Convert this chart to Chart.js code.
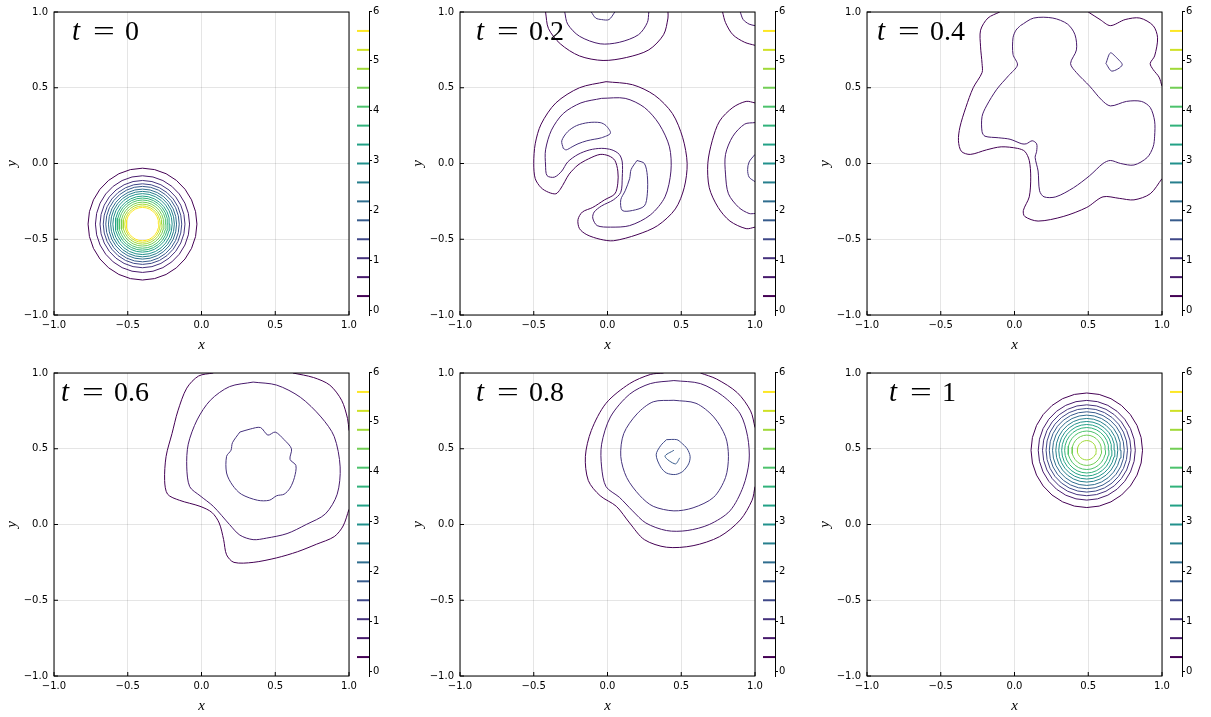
<!DOCTYPE html>
<html>
<head>
<meta charset="utf-8">
<script src="https://cdn.jsdelivr.net/npm/chart.js@4.4.1/dist/chart.umd.min.js"></script>
<style>
  body { margin: 0; background: #fff; width: 1211px; height: 717px; position: relative; overflow: hidden; }
  canvas { position: absolute; }
</style>
</head>
<body>
<script>
// contour levels shown on every colorbar
const contourLevels = [0.28, 0.66, 1.04, 1.42, 1.80, 2.18, 2.56, 2.94, 3.32, 3.70, 4.08, 4.46, 4.84, 5.22, 5.60];
const colorbarTicks = [0, 1, 2, 3, 4, 5, 6];
const colorbarRange = [-0.1, 6];
const axisTicks = [-1, -0.5, 0, 0.5, 1];
const times = ['0', '0.2', '0.4', '0.6', '0.8', '1'];

// t = 0 : concentric rings, radius per level
const t0_center = [-0.40, -0.40];
const t0_radii = [0.369, 0.319, 0.288, 0.266, 0.249, 0.231, 0.216, 0.201, 0.185, 0.172, 0.159, 0.145, 0.132, 0.120, 0.110];

// t = 1 : concentric rings
const t1_center = [0.49, 0.49];
const t1_radii = [0.378, 0.329, 0.300, 0.276, 0.254, 0.232, 0.210, 0.190, 0.170, 0.150, 0.127, 0.100, 0.064];

// t = 0.2
const t02_main0 = [[-0.01,0.54],[-0.19,0.50],[-0.35,0.40],[-0.45,0.26],[-0.49,0.13],[-0.50,0.00],[-0.49,-0.10],[-0.45,-0.16],[-0.40,-0.19],[-0.35,-0.20],[-0.32,-0.17],[-0.29,-0.12],[-0.26,-0.07],[-0.20,-0.01],[-0.13,0.03],[-0.05,0.06],[0.01,0.05],[0.05,0.02],[0.07,-0.05],[0.07,-0.13],[0.05,-0.20],[-0.02,-0.24],[-0.10,-0.29],[-0.17,-0.32],[-0.20,-0.37],[-0.19,-0.43],[-0.14,-0.47],[-0.05,-0.50],[0.04,-0.51],[0.20,-0.47],[0.34,-0.41],[0.46,-0.30],[0.52,-0.16],[0.54,0.00],[0.51,0.17],[0.44,0.33],[0.32,0.45],[0.17,0.52]];
const t02_main1 = [[-0.04,0.43],[-0.18,0.40],[-0.30,0.33],[-0.38,0.22],[-0.42,0.09],[-0.42,-0.01],[-0.41,-0.08],[-0.36,-0.09],[-0.31,-0.05],[-0.27,0.01],[-0.20,0.06],[-0.12,0.09],[-0.04,0.10],[0.03,0.09],[0.08,0.06],[0.10,0.01],[0.10,-0.09],[0.09,-0.19],[0.04,-0.24],[-0.04,-0.28],[-0.09,-0.32],[-0.10,-0.36],[-0.07,-0.41],[0.02,-0.42],[0.15,-0.41],[0.29,-0.34],[0.39,-0.22],[0.43,-0.05],[0.42,0.11],[0.35,0.26],[0.25,0.37],[0.12,0.43]];
const t02_crescentA = [[-0.30,0.10],[-0.31,0.15],[-0.27,0.21],[-0.21,0.25],[-0.13,0.27],[-0.05,0.27],[-0.01,0.25],[0.02,0.20],[-0.04,0.17],[-0.09,0.16],[-0.14,0.15],[-0.20,0.13],[-0.24,0.11],[-0.28,0.09]];
const t02_crescentB = [[0.20,0.02],[0.25,0.00],[0.27,-0.08],[0.27,-0.20],[0.25,-0.28],[0.17,-0.31],[0.10,-0.31],[0.09,-0.24],[0.12,-0.18],[0.15,-0.10],[0.16,-0.04]];
const t02_top0 = [[-0.42,1.0],[-0.40,0.89],[-0.32,0.79],[-0.19,0.71],[-0.03,0.68],[0.13,0.70],[0.28,0.75],[0.38,0.85],[0.41,0.96],[0.41,1.0]];
const t02_top1 = [[-0.29,1.0],[-0.27,0.92],[-0.19,0.84],[-0.05,0.79],[0.08,0.80],[0.21,0.85],[0.27,0.93],[0.28,1.0]];
const t02_top2 = [[-0.11,1.0],[-0.08,0.96],[-0.04,0.95],[0.01,0.95],[0.05,1.0]];
const t02_corner0 = [[0.78,1.0],[0.80,0.93],[0.85,0.85],[0.93,0.80],[1.0,0.78]];
const t02_corner1 = [[0.90,1.0],[0.92,0.95],[0.96,0.92],[1.0,0.91]];
const t02_right0 = [[1.0,0.40],[0.94,0.41],[0.85,0.37],[0.76,0.28],[0.71,0.15],[0.68,0.00],[0.69,-0.16],[0.75,-0.29],[0.83,-0.38],[0.94,-0.43],[1.0,-0.42]];
const t02_right1 = [[1.0,0.27],[0.93,0.26],[0.85,0.18],[0.80,0.06],[0.80,-0.07],[0.82,-0.20],[0.89,-0.29],[0.96,-0.33],[1.0,-0.33]];
const t02_right2 = [[1.0,0.06],[0.96,0.01],[0.95,-0.04],[0.96,-0.09],[1.0,-0.12]];

// t = 0.4
const t04_outerA = [[-0.10,1.0],[-0.18,0.96],[-0.23,0.88],[-0.23,0.77],[-0.22,0.66],[-0.22,0.60],[-0.28,0.50],[-0.33,0.37],[-0.37,0.24],[-0.38,0.15],[-0.36,0.08],[-0.30,0.06],[-0.19,0.09],[-0.09,0.11],[0.02,0.10],[0.07,0.08],[0.10,0.02],[0.11,-0.09],[0.10,-0.22],[0.06,-0.31],[0.07,-0.35],[0.16,-0.38],[0.33,-0.35],[0.49,-0.29],[0.60,-0.22],[0.71,-0.23],[0.81,-0.24],[0.92,-0.20],[1.0,-0.10]];
const t04_outerB = [[1.0,0.51],[0.98,0.57],[0.94,0.62],[0.92,0.66],[0.95,0.71],[0.97,0.83],[0.94,0.91],[0.85,0.96],[0.75,0.95],[0.65,0.91],[0.58,0.95],[0.50,1.0]];
const t04_inner = [[0.04,0.91],[0.13,0.96],[0.26,0.96],[0.36,0.92],[0.41,0.85],[0.42,0.75],[0.38,0.66],[0.42,0.60],[0.51,0.51],[0.59,0.42],[0.65,0.38],[0.76,0.41],[0.86,0.41],[0.92,0.37],[0.95,0.28],[0.95,0.18],[0.94,0.11],[0.90,0.04],[0.81,-0.01],[0.72,0.00],[0.65,0.02],[0.60,0.00],[0.51,-0.08],[0.40,-0.16],[0.28,-0.22],[0.20,-0.22],[0.17,-0.18],[0.16,-0.05],[0.14,0.04],[0.15,0.08],[0.15,0.13],[0.12,0.15],[0.08,0.13],[0.05,0.13],[-0.03,0.16],[-0.11,0.17],[-0.20,0.18],[-0.22,0.21],[-0.22,0.31],[-0.19,0.38],[-0.12,0.49],[-0.04,0.58],[0.02,0.65],[-0.01,0.72],[-0.01,0.83],[0.01,0.88]];
const t04_island = [[0.62,0.66],[0.65,0.73],[0.69,0.70],[0.73,0.65],[0.66,0.61]];

// t = 0.6
const t06_outerA = [[0.08,1.0],[-0.02,0.98],[-0.10,0.90],[-0.16,0.75],[-0.20,0.60],[-0.24,0.45],[-0.25,0.29],[-0.23,0.20],[-0.15,0.16],[-0.01,0.12],[0.07,0.08],[0.12,0.01],[0.15,-0.10],[0.17,-0.20],[0.22,-0.25],[0.35,-0.25],[0.51,-0.22],[0.65,-0.18],[0.78,-0.13],[0.90,-0.08],[0.96,-0.01],[1.0,0.10]];
const t06_outerB = [[1.0,0.62],[0.99,0.70],[0.95,0.82],[0.87,0.92],[0.76,0.97],[0.62,1.0]];
const t06_middle = [[0.35,0.94],[0.51,0.92],[0.67,0.84],[0.81,0.71],[0.90,0.58],[0.94,0.38],[0.92,0.20],[0.84,0.07],[0.71,0.00],[0.58,-0.06],[0.44,-0.09],[0.35,-0.10],[0.26,-0.07],[0.19,0.00],[0.08,0.12],[-0.01,0.19],[-0.08,0.25],[-0.10,0.38],[-0.09,0.53],[-0.03,0.69],[0.06,0.82],[0.19,0.91]];
const t06_inner = [[0.26,0.61],[0.33,0.63],[0.40,0.64],[0.45,0.59],[0.50,0.61],[0.56,0.56],[0.61,0.50],[0.60,0.43],[0.64,0.39],[0.63,0.31],[0.60,0.24],[0.56,0.20],[0.51,0.19],[0.46,0.16],[0.38,0.16],[0.27,0.20],[0.21,0.26],[0.17,0.34],[0.17,0.45],[0.20,0.49],[0.21,0.54]];

// t = 0.8
const t08_outerA = [[0.38,1.0],[0.29,0.99],[0.15,0.93],[-0.01,0.80],[-0.11,0.62],[-0.15,0.45],[-0.13,0.29],[-0.05,0.19],[0.06,0.12],[0.15,0.01],[0.25,-0.10],[0.40,-0.15],[0.58,-0.14],[0.76,-0.08],[0.90,0.03],[0.98,0.16],[1.0,0.25]];
const t08_outerB = [[1.0,0.64],[0.97,0.75],[0.88,0.87],[0.74,0.96],[0.63,1.0]];
const t08_ring1 = [[0.45,0.95],[0.63,0.93],[0.78,0.85],[0.90,0.73],[0.95,0.58],[0.96,0.42],[0.92,0.25],[0.83,0.09],[0.69,0.00],[0.54,-0.04],[0.40,-0.04],[0.26,0.01],[0.17,0.09],[0.08,0.18],[-0.01,0.25],[-0.04,0.38],[-0.04,0.53],[0.02,0.71],[0.15,0.86],[0.29,0.93]];
const t08_ring2 = [[0.45,0.82],[0.60,0.80],[0.72,0.71],[0.80,0.58],[0.82,0.45],[0.80,0.31],[0.72,0.18],[0.58,0.11],[0.45,0.09],[0.31,0.12],[0.22,0.19],[0.13,0.31],[0.09,0.45],[0.11,0.60],[0.20,0.73],[0.31,0.81]];
const t08_ring3 = [[0.40,0.56],[0.47,0.56],[0.50,0.54],[0.54,0.50],[0.56,0.45],[0.55,0.40],[0.51,0.35],[0.46,0.33],[0.40,0.34],[0.36,0.38],[0.33,0.46],[0.36,0.52]];
const t08_ring4 = [[0.45,0.49],[0.39,0.45],[0.46,0.40],[0.49,0.44]];

// layout of the 2 x 3 grid (pixels)
const colPlotLeft = [54, 460, 867];
const rowTop = [0, 361];
const titleOffset = [18, 16, 10, 7, 16, 22];
const plotW = 295, plotH = 304, padTop = 11, yAxisW = 54, xAxisH = 39, padRight = 12;

const viridis = ['#440154', '#482475', '#414487', '#355f8d', '#2a788e', '#21918c', '#22a884', '#44bf70', '#7ad151', '#bddf26', '#fde725'];

function hexToRgb(h) {
    return [parseInt(h.slice(1, 3), 16), parseInt(h.slice(3, 5), 16), parseInt(h.slice(5, 7), 16)];
}

function levelColor(k) {
    const t = k / (contourLevels.length - 1) * (viridis.length - 1);
    const i = Math.min(Math.floor(t), viridis.length - 2);
    const f = t - i;
    const a = hexToRgb(viridis[i]), b = hexToRgb(viridis[i + 1]);
    const c = a.map((v, j) => Math.round(v + (b[j] - v) * f));
    return `rgb(${c[0]},${c[1]},${c[2]})`;
}

function ring(center, r) {
    const pts = [];
    const n = 28;
    for (let i = 0; i <= n; i++) {
        const a = i / n * 2 * Math.PI;
        pts.push([center[0] + r * Math.cos(a), center[1] + r * Math.sin(a)]);
    }
    return pts;
}

function rings(center, radii) {
    return radii.map((r, k) => ({ level: k, pts: ring(center, r), closed: false, smooth: 0 }));
}

const panels = [
    rings(t0_center, t0_radii),
    [
        { level: 0, pts: t02_main0, closed: true }, { level: 1, pts: t02_main1, closed: true },
        { level: 2, pts: t02_crescentA, closed: true }, { level: 2, pts: t02_crescentB, closed: true },
        { level: 0, pts: t02_top0 }, { level: 1, pts: t02_top1 }, { level: 2, pts: t02_top2 },
        { level: 0, pts: t02_corner0 }, { level: 1, pts: t02_corner1 },
        { level: 0, pts: t02_right0 }, { level: 1, pts: t02_right1 }, { level: 2, pts: t02_right2 }
    ],
    [
        { level: 0, pts: t04_outerA }, { level: 0, pts: t04_outerB },
        { level: 1, pts: t04_inner, closed: true }, { level: 2, pts: t04_island, closed: true }
    ],
    [
        { level: 0, pts: t06_outerA }, { level: 0, pts: t06_outerB },
        { level: 1, pts: t06_middle, closed: true }, { level: 2, pts: t06_inner, closed: true }
    ],
    [
        { level: 0, pts: t08_outerA }, { level: 0, pts: t08_outerB },
        { level: 1, pts: t08_ring1, closed: true }, { level: 2, pts: t08_ring2, closed: true },
        { level: 3, pts: t08_ring3, closed: true }, { level: 4, pts: t08_ring4 }
    ],
    rings(t1_center, t1_radii)
];

function fmtTick(v) {
    return (v < 0 ? '\u2212' : '') + Math.abs(v).toFixed(1);
}

// frame, inward tick marks and the "t = ..." label
const framePlugin = {
    id: 'frame',
    afterDraw(chart, args, opts) {
        const { ctx, chartArea: a, scales } = chart;
        ctx.save();
        ctx.strokeStyle = '#000';
        ctx.lineWidth = 1;
        ctx.strokeRect(a.left, a.top, a.right - a.left, a.bottom - a.top);
        ctx.beginPath();
        axisTicks.forEach(v => {
            const px = scales.x.getPixelForValue(v);
            ctx.moveTo(px, a.bottom); ctx.lineTo(px, a.bottom - 4);
            const py = scales.y.getPixelForValue(v);
            ctx.moveTo(a.left, py); ctx.lineTo(a.left + 4, py);
        });
        ctx.stroke();

        const x0 = a.left + opts.offset, base = a.top + 28;
        ctx.fillStyle = '#000';
        ctx.textBaseline = 'alphabetic';
        ctx.font = 'italic 29px "Liberation Serif"';
        ctx.fillText('t', x0, base);
        ctx.save();
        ctx.translate(x0 + 21, base);
        ctx.scale(1.38, 1);
        ctx.font = '28px "Liberation Serif"';
        ctx.fillText('=', 0, 0);
        ctx.restore();
        ctx.font = '28px "Liberation Serif"';
        ctx.fillText(opts.label, x0 + 53, base);
        ctx.restore();
    }
};

const tickFont = { family: 'DejaVu Sans', size: 10 };
const titleFont = { family: 'Liberation Serif', style: 'italic', size: 15 };

panels.forEach((contours, p) => {
    const col = p % 3, row = Math.floor(p / 3);
    const plotLeft = colPlotLeft[col];

    const main = document.createElement('canvas');
    main.width = yAxisW + plotW + padRight;
    main.height = padTop + plotH + xAxisH;
    main.style.left = (plotLeft - yAxisW) + 'px';
    main.style.top = rowTop[row] + 'px';
    document.body.appendChild(main);

    const datasets = contours.map(c => {
        const pts = c.closed ? c.pts.concat([c.pts[0]]) : c.pts;
        return {
            data: pts.map(([x, y]) => ({ x, y })),
            showLine: true,
            pointRadius: 0,
            borderWidth: 1,
            borderColor: levelColor(c.level),
            tension: c.smooth === 0 ? 0 : 0.3,
            fill: false
        };
    });

    new Chart(main, {
        type: 'scatter',
        data: { datasets },
        options: {
            responsive: false,
            animation: false,
            devicePixelRatio: 1,
            layout: { padding: { top: padTop, right: padRight, left: 0, bottom: 0 } },
            plugins: {
                legend: { display: false },
                tooltip: { enabled: false },
                frame: { offset: titleOffset[p], label: times[p] }
            },
            scales: {
                x: {
                    type: 'linear', min: -1, max: 1,
                    afterBuildTicks: s => { s.ticks = axisTicks.map(v => ({ value: v })); },
                    afterFit: s => { s.height = xAxisH; },
                    grid: { color: 'rgba(0,0,0,0.1)', drawTicks: false },
                    border: { display: false },
                    ticks: { padding: 4, font: tickFont, color: '#000', maxRotation: 0, callback: fmtTick },
                    title: { display: true, text: 'x', font: titleFont, color: '#000', padding: { top: 3, bottom: 0 } }
                },
                y: {
                    type: 'linear', min: -1, max: 1,
                    afterBuildTicks: s => { s.ticks = axisTicks.map(v => ({ value: v })); },
                    afterFit: s => { s.width = yAxisW; },
                    grid: { color: 'rgba(0,0,0,0.1)', drawTicks: false },
                    border: { display: false },
                    ticks: { padding: 6, font: tickFont, color: '#000', callback: fmtTick },
                    title: { display: true, text: 'y', font: titleFont, color: '#000', padding: { top: 3, bottom: 0 } }
                }
            }
        },
        plugins: [framePlugin]
    });

    // colorbar with one line per contour level
    const cb = document.createElement('canvas');
    cb.width = 12 + 28;
    cb.height = padTop + plotH + xAxisH;
    cb.style.left = (plotLeft + plotW + 8) + 'px';
    cb.style.top = rowTop[row] + 'px';
    document.body.appendChild(cb);

    new Chart(cb, {
        type: 'scatter',
        data: {
            datasets: contourLevels.map((L, k) => ({
                data: [{ x: 0, y: L }, { x: 1, y: L }],
                showLine: true,
                pointRadius: 0,
                borderWidth: 2,
                borderColor: levelColor(k)
            }))
        },
        options: {
            responsive: false,
            animation: false,
            devicePixelRatio: 1,
            layout: { padding: { top: padTop, bottom: xAxisH, left: 0, right: 0 } },
            plugins: { legend: { display: false }, tooltip: { enabled: false } },
            scales: {
                x: { type: 'linear', display: false, min: 0, max: 1 },
                y: {
                    type: 'linear', position: 'right',
                    min: colorbarRange[0], max: colorbarRange[1],
                    afterBuildTicks: s => { s.ticks = colorbarTicks.map(v => ({ value: v })); },
                    afterFit: s => { s.width = 28; },
                    grid: { drawOnChartArea: false, drawTicks: true, tickLength: 3, color: '#000' },
                    border: { display: true, color: '#000', width: 1 },
                    ticks: { padding: 1, font: tickFont, color: '#000', callback: v => String(v) }
                }
            }
        }
    });
});
</script>
</body>
</html>
